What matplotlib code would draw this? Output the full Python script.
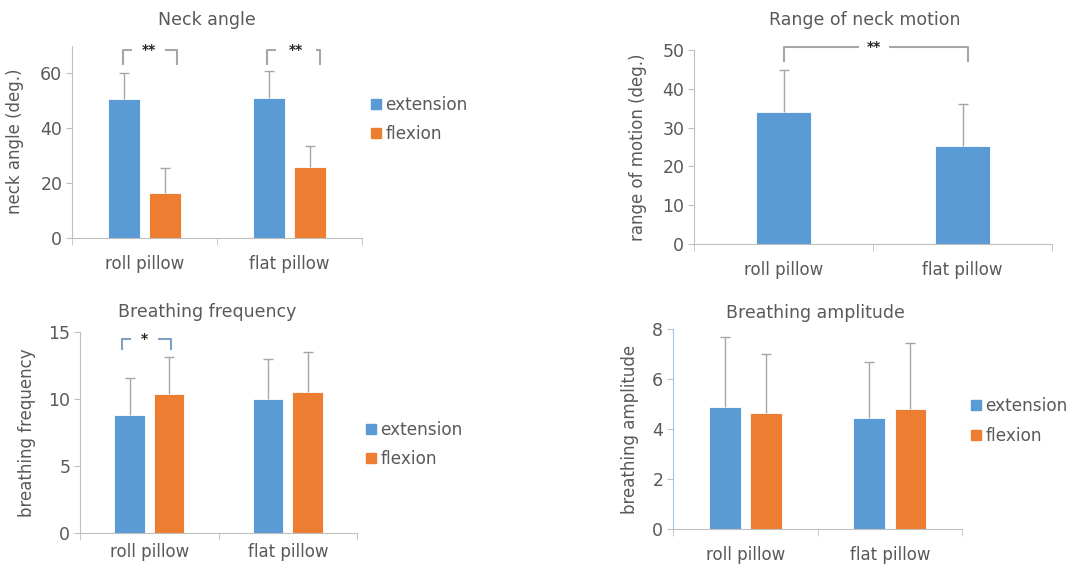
import matplotlib
matplotlib.use('Agg')
import matplotlib.pyplot as plt
from matplotlib.lines import Line2D
import numpy as np

# dados
pillows = ['roll pillow', 'flat pillow']
series = ['extension', 'flexion']

neck_ext = [50.5, 51.0]
neck_ext_sd = [9.5, 9.8]
neck_flex = [16.5, 25.9]
neck_flex_sd = [9.1, 7.5]

rom = [33.9, 25.3]
rom_sd = [10.9, 10.8]

freq_ext = [8.8, 10.0]
freq_ext_sd = [2.75, 2.95]
freq_flex = [10.37, 10.52]
freq_flex_sd = [2.75, 2.98]

amp_ext = [4.87, 4.45]
amp_ext_sd = [2.8, 2.23]
amp_flex = [4.65, 4.8]
amp_flex_sd = [2.35, 2.63]

BLUE = '#5B9BD5'
ORANGE = '#ED7D31'
GRAY_TXT = '#595959'
GRAY_LINE = '#bfbfbf'
ERR = '#a6a6a6'

plt.rcParams['font.family'] = 'DejaVu Sans'
plt.rcParams['font.size'] = 12

W, H = 1069, 564
fig = plt.figure(figsize=(W / 100, H / 100), dpi=100)


def px_axes(left, top, right, bottom):
    return fig.add_axes([left / W, 1 - bottom / H, (right - left) / W, (bottom - top) / H])


def estilo(ax, ymax, step, ylabel, label_x, xpad=10, spine_color=GRAY_LINE):
    ax.set_xlim(-0.5, 1.5)
    ax.set_ylim(0, ymax)
    ax.set_yticks(np.arange(0, ymax + 0.01, step))
    ax.set_xticks([0, 1])
    ax.set_xticklabels(pillows)
    ax.set_xticks([-0.5, 0.5, 1.5], minor=True)
    ax.tick_params(axis='x', which='major', length=0, pad=xpad, labelcolor=GRAY_TXT, labelsize=12)
    ax.tick_params(axis='x', which='minor', length=5, color=GRAY_LINE, direction='out')
    ax.tick_params(axis='y', length=4, color=GRAY_LINE, labelcolor=GRAY_TXT, labelsize=12.5, pad=3)
    for s in ['top', 'right']:
        ax.spines[s].set_visible(False)
    ax.spines['bottom'].set_color(GRAY_LINE)
    ax.spines['left'].set_color(spine_color)
    ax.set_ylabel(ylabel, color=GRAY_TXT, fontsize=12)
    ax.yaxis.set_label_coords(label_x, 0.5)


def barra(ax, x, vals, sd, w, cor):
    ax.bar(x, vals, w, color=cor, edgecolor='white', linewidth=0.6)
    topo = np.array(vals) + np.array(sd)
    ax.vlines(x, vals, topo, color=ERR, lw=1)
    ax.plot(x, topo, ls='', marker='_', color=ERR, markersize=7, markeredgewidth=1)


def barras_duplas(ax, ext, ext_sd, flex, flex_sd):
    x = np.arange(len(pillows))
    barra(ax, x - 0.142, ext, ext_sd, 0.22, BLUE)
    barra(ax, x + 0.143, flex, flex_sd, 0.22, ORANGE)


def colchete(ax, x1, x2, y_top, y_bot, g1, g2, txt, cor):
    kw = dict(color=cor, lw=1.5, clip_on=False, solid_capstyle='butt')
    ax.plot([x1, x1, g1], [y_bot, y_top, y_top], **kw)
    ax.plot([g2, x2, x2], [y_top, y_top, y_bot], **kw)
    ax.text((g1 + g2) / 2, y_top, txt, ha='center', va='center', fontsize=10,
            color='#262626', fontweight='bold', clip_on=False)


def legenda(x, y):
    handles = [Line2D([], [], marker='s', ls='', color=BLUE, markersize=7),
               Line2D([], [], marker='s', ls='', color=ORANGE, markersize=7)]
    fig.legend(handles, series, loc='center left', bbox_to_anchor=(x / W, 1 - y / H),
               frameon=False, handlelength=0.6, handletextpad=0.25, labelspacing=0.68,
               fontsize=12.2, labelcolor=GRAY_TXT, borderaxespad=0, borderpad=0)


def titulo(x, y, txt):
    fig.text(x / W, 1 - y / H, txt, ha='center', va='center', color=GRAY_TXT, fontsize=12.5)


# Neck angle
ax1 = px_axes(72, 45.5, 362, 238)
barras_duplas(ax1, neck_ext, neck_ext_sd, neck_flex, neck_flex_sd)
estilo(ax1, 70, 20, 'neck angle (deg.)', -0.165, xpad=12)
ax1.set_yticks([0, 20, 40, 60])
colchete(ax1, -0.148, 0.224, 68.4, 62.9, -0.086, 0.141, '**', '#a6a6a6')
colchete(ax1, 0.845, 1.21, 68.4, 62.9, 0.91, 1.18, '**', '#a6a6a6')
legenda(371, 119.5)
titulo(207, 20, 'Neck angle')

# Range of neck motion
ax2 = px_axes(694, 50, 1052, 244)
barra(ax2, np.arange(len(pillows)), rom, rom_sd, 0.307, BLUE)
estilo(ax2, 50, 10, 'range of motion (deg.)', -0.13, xpad=12)
colchete(ax2, 0.0, 1.03, 50.8, 46.9, 0.42, 0.59, '**', '#a6a6a6')
titulo(865, 20, 'Range of neck motion')

# Breathing frequency
ax3 = px_axes(80, 332, 357, 533)
barras_duplas(ax3, freq_ext, freq_ext_sd, freq_flex, freq_flex_sd)
estilo(ax3, 15, 5, 'breathing frequency', -0.16, xpad=7)
colchete(ax3, -0.2, 0.159, 14.48, 13.66, -0.13, 0.065, '*', '#7fa2c4')
legenda(366, 444.5)
titulo(207, 312, 'Breathing frequency')

# Breathing amplitude
ax4 = px_axes(673, 329, 962, 529)
barras_duplas(ax4, amp_ext, amp_ext_sd, amp_flex, amp_flex_sd)
estilo(ax4, 8, 2, 'breathing amplitude', -0.116, xpad=12, spine_color='#a9c4e0')
legenda(971, 421)
titulo(815, 313, 'Breathing amplitude')

fig.savefig('out.png', dpi=100, facecolor='white')
